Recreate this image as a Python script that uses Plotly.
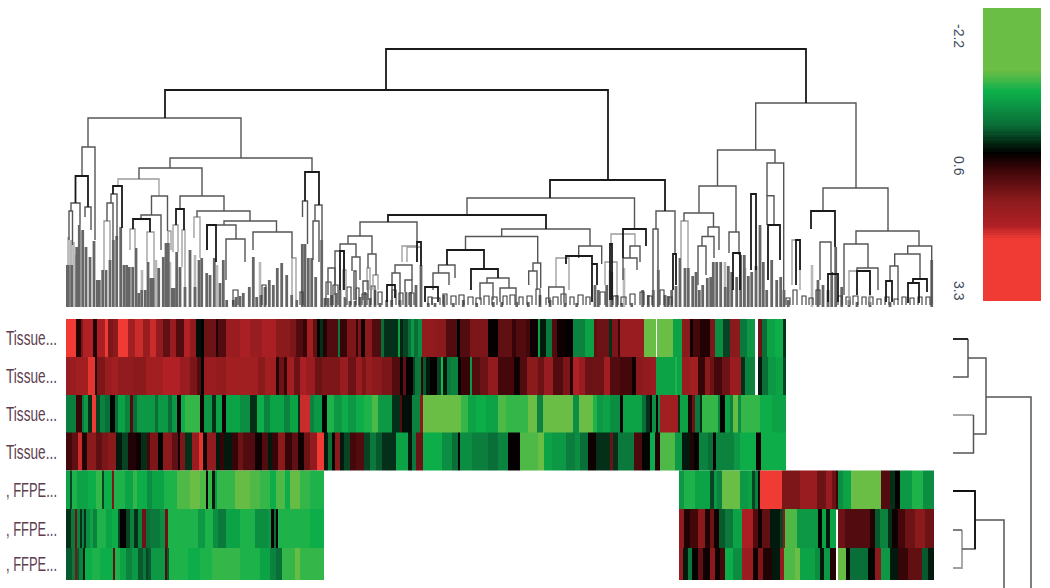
import plotly.graph_objects as go

# Row labels and row boundaries (heat-map y units, top to bottom)
row_labels = ["Tissue...", "Tissue...", "Tissue...", "Tissue...", ", FFPE...", ", FFPE...", ", FFPE..."]
row_edges = [319, 357, 395, 432.5, 470.5, 509, 548, 580]

# Each row: (column start, log ratio); the last entry closes the row. None = no data.
row1 = [(66,2.3),(76,.7),(81,1.3),(83,1.9),(93,.7),(97,1.8),(105,2.2),(108,1.3),(113,1.4),(118,2.2),(128,1.7),(135,2.0),(143,1.6),(150,2.0),(156,1.5),(163,1.1),(170,1.6),(176,1.0),(184,1.9),(190,1.5),(196,.45),(201,.5),(204,1.2),(216,.7),(218,1.0),(226,1.6),(240,1.8),(250,1.6),(262,1.8),(276,1.4),(290,1.3),(296,1.0),(303,.8),(307,1.7),(313,1.1),(317,.5),(320,.3),(323,.7),(327,1.0),(338,-.1),(340,.8),(347,1.3),(356,.8),(358,1.3),(361,.6),(365,1.4),(372,1.0),(381,0),(384,.3),(398,-.5),(400,.35),(403,.2),(408,0),(411,-.4),(414,0),(418,-.3),(422,1.5),(436,1.4),(446,1.0),(457,.5),(460,1.0),(470,1.3),(488,.55),(498,1.1),(512,.8),(516,1.0),(526,.9),(530,.6),(538,-.5),(540,.4),(546,-.1),(552,1.0),(557,.6),(565,.55),(573,-.2),(585,-.5),(594,1.1),(597,1.2),(609,.3),(612,1.3),(618,.8),(620,1.6),(644,-1.2),(650,-1.2),(656,None),(657,-1.1),(663,-1.2),(673,-.5),(682,1.4),(690,.6),(693,.9),(700,.7),(710,1.3),(715,-.3),(723,.2),(730,1.4),(740,-.1),(747,-.4),(755,None),(758,1.2),(762,0),(767,-.5),(775,-.6),(783,.3),(786,None)]
row2 = [(66,1.6),(76,1.7),(88,2.1),(95,.7),(97,1.3),(105,1.6),(112,1.7),(118,1.5),(134,1.4),(146,1.7),(163,1.9),(180,1.6),(190,1.3),(197,1.0),(201,.5),(204,1.6),(216,1.5),(226,1.7),(258,1.4),(265,1.7),(276,.7),(279,1.2),(284,.8),(287,1.7),(294,1.2),(300,1.8),(306,1.6),(315,1.2),(322,1.3),(340,1.6),(348,1.2),(356,1.6),(362,1.3),(366,1.6),(372,1.4),(382,1.3),(392,1.0),(400,.55),(403,1.1),(406,.55),(413,.2),(415,-.1),(421,.8),(423,.1),(426,.4),(430,.55),(437,.2),(441,-.7),(443,.4),(447,-.1),(451,-.2),(458,.55),(461,.8),(470,-.4),(472,1.0),(480,1.2),(488,1.5),(498,.9),(514,.6),(520,1.0),(527,1.4),(538,1.2),(544,1.6),(553,1.0),(563,1.3),(570,.7),(573,1.9),(579,1.6),(585,1.2),(604,1.7),(610,1.0),(620,.9),(632,.6),(636,1.4),(642,1.5),(650,1.6),(656,-.5),(675,-.7),(677,-.5),(682,1.6),(690,1.7),(698,.8),(705,1.4),(710,1.2),(714,.9),(722,1.2),(730,1.6),(741,.3),(745,-.2),(755,None),(758,.4),(762,0),(768,-.4),(776,-.5),(783,.2),(786,None)]
row3 = [(66,-.15),(76,.8),(82,-.1),(84,-.4),(88,.3),(92,2.2),(96,.2),(100,-.2),(105,0),(110,.5),(115,0),(118,-.5),(125,-.2),(130,1.0),(133,0),(137,-.4),(155,0),(158,-.4),(168,0),(172,-.4),(177,.6),(181,-.6),(185,-.8),(200,.6),(204,-.4),(212,.3),(216,-.5),(222,.6),(226,-.5),(240,-.3),(250,.3),(257,-.6),(264,-.2),(270,-.5),(284,-.2),(290,-.5),(298,.3),(300,2.0),(310,-.2),(314,-.4),(322,.5),(327,-.7),(334,-.4),(342,-.6),(348,-.4),(356,-.6),(364,-.7),(372,-.9),(378,-.4),(392,.3),(400,1.0),(402,.45),(412,-.2),(420,1.4),(423,-1.3),(461,-.8),(468,-.5),(476,-.6),(486,-.5),(498,-.9),(506,-.8),(528,-1.1),(537,-.2),(543,-1.2),(573,-.3),(579,-1.2),(593,-.7),(597,-.4),(603,-.5),(610,-.3),(620,.5),(623,-.5),(642,0),(646,.3),(650,.5),(652,-.3),(656,.6),(658,-.3),(660,1.7),(678,.3),(680,-.5),(688,.7),(692,1.2),(695,-.1),(700,.3),(702,-.8),(718,-.2),(720,.5),(725,-.5),(730,-.2),(733,-1.0),(738,-.3),(741,-.8),(760,-.6),(772,-.5),(786,None)]
row4 = [(66,.9),(72,1.1),(78,2.0),(82,.7),(87,1.4),(96,1.1),(102,1.3),(108,1.4),(116,.4),(122,.2),(128,.7),(136,.6),(141,.3),(147,.9),(150,1.3),(158,.5),(163,1.4),(172,1.1),(178,.6),(180,1.3),(185,.3),(192,1.6),(199,2.1),(203,.6),(207,1.5),(216,.4),(220,.8),(224,.4),(232,.8),(238,1.2),(243,1.0),(255,.6),(262,1.0),(268,.4),(272,.8),(278,1.4),(285,.8),(292,1.1),(298,.6),(304,1.2),(310,1.5),(317,2.3),(324,.4),(328,0),(332,.5),(335,1.4),(340,.4),(344,.2),(350,.9),(356,1.0),(364,.2),(370,-.1),(376,.1),(382,.3),(396,-.5),(408,.4),(412,-.1),(416,1.2),(423,-.6),(442,-.3),(452,0),(458,.55),(460,-.3),(472,-.15),(488,0),(498,-.2),(508,.55),(520,-.9),(538,-1.1),(544,-.5),(552,-.4),(566,-.15),(575,-.3),(580,0),(588,.6),(596,.3),(610,1.2),(613,.3),(618,-.1),(634,.95),(642,.5),(650,-.6),(655,.7),(660,-.9),(675,-.4),(682,.4),(690,.7),(694,.5),(699,-.2),(708,0),(713,.5),(716,-.2),(734,-.4),(740,-.6),(756,.6),(761,-.6),(786,None)]
row5 = [(66,-.5),(70,.2),(72,-.7),(77,-.5),(88,-.6),(96,-.8),(102,.2),(104,-.6),(112,1.3),(114,-.7),(125,-.5),(133,-.8),(137,-.6),(147,-.3),(152,-.5),(164,-.7),(177,-.9),(190,-1.2),(200,-.9),(206,.5),(208,-.8),(212,.4),(215,-.4),(217,-.8),(235,-1.0),(250,-.9),(260,-.8),(270,-.6),(276,-.9),(285,-.6),(290,-1.0),(300,-.8),(310,-.7),(324,None),(679,-.4),(684,-.7),(695,-.5),(710,.2),(714,-.4),(717,-.2),(722,-1.2),(740,-.4),(748,-.5),(752,.2),(755,-.2),(758,.6),(760,2.2),(770,2.4),(782,1.3),(800,1.6),(817,1.2),(826,1.6),(832,1.2),(836,.8),(838,-.3),(843,-.5),(851,-1.2),(881,1.0),(890,.3),(895,.55),(900,-.4),(912,-.7),(923,-.3),(934,None)]
row6 = [(66,.3),(71,-.1),(75,1.2),(77,-.2),(80,.3),(82,-.2),(84,.3),(86,-.3),(90,-.5),(93,-.2),(97,-.7),(106,-.5),(112,-.6),(118,.2),(120,.55),(126,.2),(130,-.2),(134,.3),(138,-.2),(142,1.2),(146,0),(150,-.1),(160,-.3),(165,1.2),(168,-.7),(198,-.4),(205,-.7),(213,-.3),(218,-.1),(226,-.5),(240,-.7),(255,-.3),(268,-.4),(271,.6),(274,0),(276,.6),(278,-.7),(310,-.6),(324,None),(679,1.5),(684,.7),(690,.9),(698,1.4),(705,.7),(710,1.2),(714,.6),(719,.1),(725,-.1),(733,-.5),(742,1.8),(753,1.0),(758,.6),(762,1.1),(770,.4),(780,.2),(783,1.4),(785,-.9),(797,-.4),(818,.5),(822,-.5),(826,.4),(830,-.5),(836,None),(838,1.2),(845,1.0),(870,.7),(875,.1),(880,-.2),(888,.3),(892,.6),(898,.9),(905,1.2),(915,1.4),(925,1.2),(934,None)]
row7 = [(66,.1),(72,-.1),(75,1.3),(77,.1),(79,-.2),(83,.4),(85,-.6),(92,-.7),(100,-.6),(113,1.1),(115,-.7),(120,-.5),(126,-.2),(132,-.4),(138,.1),(143,-.1),(146,.2),(148,.1),(151,-.4),(165,1.0),(167,.1),(169,-.7),(188,-.6),(200,-.7),(212,-.8),(240,-.7),(260,-.5),(270,-.2),(276,0),(282,-.8),(295,-1.0),(300,-.8),(324,None),(679,1.6),(683,.4),(688,-.1),(692,.5),(698,1.1),(703,.6),(710,1.4),(715,.6),(720,.9),(725,-.6),(733,-.3),(742,1.6),(753,.6),(758,1.3),(763,.7),(772,.4),(780,1.5),(784,-.9),(795,-1.1),(800,-.5),(815,-.3),(820,.4),(824,-.4),(830,.7),(836,None),(838,-1.0),(846,.5),(850,0),(868,.5),(875,1.4),(881,-.4),(890,.4),(898,.8),(908,1.1),(922,.1),(928,.4),(934,None)]
rows = [row1, row2, row3, row4, row5, row6, row7]

# Colour key
z_min, z_max = -2.2, 3.3
key_labels = ["-2.2", "0.6", "3.3"]
key_label_pos = [22, 154, 291]
key_steps = 120

# Sample dendrogram: (left x, right x, join level, left leg end, right leg end)
links_black = [
 (386,806,49,90,103),(165,608,90,118,180),(550,665,180,198,211),(388,546,215,222,229),
 (305,319,172,201,205),(113,122,186,194,228),(75.5,88,176,203,207),(133,150,219,229,232),(207,216,225,250,262),
 (176,184,209,225,230),(471,498,269,290,278),(447,484,250,265,269),(425,438,287,302,302),(387,395,285,302,298),
 (417,421,242,262,266),(566,592,256,264,264),(623,646,229,258,246),(796,800,240,285,270),(811,835,211,229,247),
 (610,612,244,300,300),(886,892,281,302,302),(908,919,283,303,303),(913,927,279,283,292),(857,870,271,295,295),
 (751,756,194,270,270),(733,740,253,290,290),(768,780,225,280,260),(828,838,274,302,302),
 (340,344,251,290,290),(592,597,264,302,285),(673,676,254,290,285),
]
links_dark = [
 (88,241,118,147,158),(170,312,158,168,172),(139,202,168,179,196),(151.5,167.5,196,215,231),(180,224,196,209,211),
 (197,250,211,217,221),(224,276.5,221,225,232),(207,236,225,250,239),(226,245,239,280,262),(253,292,232,250,258),(141,161,215,219,250),
 (82,95,147,176,240),(71,80,203,211,225),(69,72.5,211,240,245),(85,91,207,217,230),(111,117,194,203,240),(107,113,203,221,240),
 (302.5,307.5,201,217,244),(315,322,205,221,240),(313,319,221,260,262),(360,417,222,236,242),(348,372,236,244,254),
 (340,356,244,251,257),(335,344,251,285,270),(467,634.5,198,215,229),(501.7,590,229,236.5,246),(465.5,537.7,236.5,250,263),(438.5,455,265,273,278),
 (433,449,273,290,285),(487,509,278,283,288),(480,493,283,300,300),(500,516,288,302,302),(533,540.7,263,271,288),(528.7,537,271,285,290),
 (578.7,601.7,246,258,264),(548.7,564,287,303,303),(630,640,246,258,262),(623,637,258,280,270),
 (656,675,211,229,254),(653,658,229,290,270),(755.7,856,103,150,188),(717.5,775,150,186,163),(699,736,186,213,232),
 (684,713.5,213,221,227),(708,719,227,236.5,250),(702,714,236.5,246,258),(698,706,246,285,275),(729,739,232,253,255),
 (767,783.7,163,195.7,290),(767,774,195.7,225,225),(823,888,188,211,231),(856,919,231,244,246),(844,868,244,295,268),(857,878,268,271,290),
 (907.7,931.7,246,254,305),(894.7,920,254,266,279),(890,898,266,281,300),(820,831,242,280,272),
 (328,335,268,295,295),(352,360,257,271,280),(354,356,271,300,300),(368,376,254,268,275),(363,368,281,300,300),(395,412,265,273,280),
 (392,400,273,300,300),(405,412,280,292,292),
]
links_grey = [
 (118,159,179,186,196),(681,688,221,258,268),(402,417,246,262,262),
 (407,421,247,262,266),(343,346,270,290,298),(367,370,268,290,290),(373,378,275,290,290),(556,569,258,287,290),
 (605,617,262,285,295),(611,635,234,244,246),(849,870,271,305,305),(792,800,240,285,290),(168,171,231,243,250),(130,135,229,250,248),(147,154,232,262,278),
 (194,200,217,238,258),(173,178,225,252,252),(182,185,230,267,287),(292,296,258,295,300),(104,110,221,270,260),
]
# Small low clusters near the leaves: (left x, right x, join level)
low_loops = [(326,331,282),(333,338,285),(347,351,287),(356,359,288),(362,367,294),(371,375,286),(378,382,292),(392,396,290),(399,403,293),
 (409,414,293),(428,432,297),(432,440,298),(443,447,294),(451,456,296),(459,464,295),(468,473,297),(476,481,298),(484,489,296),(492,497,297),
 (503,507,296),(510,515,295),(519,523,297),(527,532,296),(536,540,289),(546,550,298),(553,558,297),(561,566,294),(570,574,297),(578,583,295),
 (586,590,297),(600,605,292),(613,618,296),(621,626,297),(630,635,294),(640,644,292),(648,652,296),(660,664,290),(669,672,297),
 (786,790,298),(793,797,290),(802,806,296),(809,813,298),(816,820,290),(838,842,296),(846,850,297),(853,858,296),(862,866,297),(869,873,297),
 (877,881,299),(885,889,297),(894,898,299),(902,906,297),(910,914,298),(918,922,297),(926,930,297),(233,238,290),(262,266,285),(300,303,292)]

# Leaf stems: (x, top of stem)
stems_dark = [(66,265),(68.3,265),(71.7,265),(76.7,247),(79.3,225),(82.7,230),(86,247),(90,257),(94,241),(97.3,280),(99.3,280),(102.7,270),(106,270),(110,260),(113.3,240),(116.7,236),(120.7,227),(124,265),(126.7,265),(129.3,267),(132.7,267),(136,248),(138.7,293),(141.7,290),(145.3,290),(148,262),(150.7,278),(153.3,278),(158.7,268),(163.3,257),(166,243),(168.3,243),(172.3,288),(174.3,288),(176.7,252),(180,267),(185,287),(190,250),(195,287),(199,260),(201.7,258),(206.7,273),(210,275),(214.3,258),(220,283),(223.3,260),(226.7,300),(233.3,300),(236,297),(240,296),(243.3,293),(249.3,287),(253.3,257),(256.7,297),(261,295),(265,287),(269.3,280),(273.3,285),(277.3,268),(281.7,263),(286.7,275),(291.7,295),(296.7,300),(302.3,244),(305,244),(308.3,258),(311.7,258),(315.7,277),(321.7,240),(325,298),(328,298),(331.7,295),(336,293),(340,290),(345,297),(350,301),(355,301),
 (360,297),(365,292),(370,298),(375,290),(380,303),(386.7,300),(391.7,300),(400,300),(406,292),(410.7,292),(416,285),(421,265),(428.3,303),(435,303),(444,295),(453.3,303),(463.3,300),(476.7,303),(493.3,302),(501.7,302),(516.7,302),(528.3,302),(540,295),(550,300),(565,303),(576.7,303),(595,285),(598.3,290),(606.7,285),(611.7,272),(616.7,295),(621.7,303),(631.7,303),(642.7,290),(648.3,295),(653.3,290),(658.3,270),(665,295),(668,296),(671.7,290),
 (676,286),(680,258),(685,268),(688.3,268),(692.7,276),(696,272),(699.3,290),(702.7,285),(707.3,278),(710.7,277),(713.3,262),(716.7,262),(720.7,262),(725.3,287),(728.3,266),(731.7,272),(736.7,277),(740.7,255),(744.3,255),(748.3,276),(751.7,272),(756,266),(760,225),(763.3,262),(766.7,290),(771.7,260),(776.7,280),(780.7,277),(784,290),(788.3,300),
 (818,280),(823,285),(828,290),(831.7,272),(835.7,247),(841.7,287),(849,300),(857,302),(870,302),(890,302),(931.7,260)]
stems_light = [(68.5,237),(71,240),(73.5,242),(75.5,255),(142,270),(156,260),(170,262),(195,255),(217,265),(260,262),(610,270),(624,268),(725,262),(745,268),(812,265)]

# Side (sample) dendrogram: (left x, right x, join level, right leg end)
side_black = [(953,968,339,339),(953,975,491,549)]
side_dark = [(953,968,377,339),(968,986,358,397),(953,973.5,453,415),(973.5,986,434,397),
             (986,1031,397,600),(953,962,530,530),(962,975,549,491),(975,1004,520,600)]
side_grey = [(953,973.5,415,415),(953,962,568,530)]

fig = go.Figure()

for row, top, bottom in zip(rows, row_edges[:-1], row_edges[1:]):
    fig.add_trace(go.Heatmap(
        x=[c[0] for c in row], y=[top, bottom], z=[[c[1] for c in row[:-1]]],
        coloraxis="coloraxis", hoverongaps=False, xaxis="x", yaxis="y"))

# colour key as its own small heat map
key_values = [z_min + (z_max - z_min) * i / (key_steps - 1) for i in range(key_steps)]
fig.add_trace(go.Heatmap(z=[[v] for v in key_values], y=key_values, x=[0],
                         coloraxis="coloraxis", xaxis="x4", yaxis="y4"))

def path(links):
    xs, ys = [], []
    for x1, x2, level, b1, b2 in links:
        xs += [x1, x1, x2, x2, None]
        ys += [b1, level, level, b2, None]
    return xs, ys

def stem_path(stems, base):
    xs, ys = [], []
    for x, top in stems:
        xs += [x, x, None]
        ys += [base, top, None]
    return xs, ys

def side_path(links):
    xs, ys = [], []
    for x1, x2, level, end in links:
        xs += [x1, x2, x2, None]
        ys += [level, level, end, None]
    return xs, ys

def line_trace(xs, ys, color, width, xa="x", ya="y2"):
    return go.Scatter(x=xs, y=ys, mode="lines", line=dict(color=color, width=width),
                      xaxis=xa, yaxis=ya, showlegend=False, hoverinfo="skip")

fig.add_trace(line_trace(*stem_path(stems_light, 307), "#b8b8b8", 2.6))
fig.add_trace(line_trace(*stem_path(stems_dark, 307), "#666666", 2.8))
fig.add_trace(line_trace(*path([(a, b, c, 305, 305) for a, b, c in low_loops]), "#3a3a3a", 1.1))
fig.add_trace(line_trace(*path(links_grey), "#9a9a9a", 1.3))
fig.add_trace(line_trace(*path(links_dark), "#555555", 1.4))
fig.add_trace(line_trace(*path(links_black), "#1a1a1a", 1.8))

fig.add_trace(line_trace(*side_path(side_grey), "#a0a0a0", 1.8, "x3", "y3"))
fig.add_trace(line_trace(*side_path(side_dark), "#555555", 1.5, "x3", "y3"))
fig.add_trace(line_trace(*side_path(side_black), "#111111", 1.8, "x3", "y3"))

W, H = 1050, 588
colorscale = [[0, "#6abd45"], [0.215, "#6abd45"], [0.285, "#0db14b"], [0.40, "#0a6e38"],
              [0.495, "#000000"], [0.55, "#3a0508"], [0.655, "#8a1a1c"], [0.745, "#b02025"],
              [0.79, "#ef3b33"], [1, "#ef3b33"]]

fig.update_layout(
    width=W, height=H, margin=dict(l=0, r=0, t=0, b=0), showlegend=False,
    paper_bgcolor="white", plot_bgcolor="rgba(0,0,0,0)",
    coloraxis=dict(cmin=z_min, cmax=z_max, colorscale=colorscale, showscale=False),
    xaxis=dict(domain=[66/W, 934/W], range=[66, 934], visible=False),
    yaxis=dict(domain=[1-580/H, 1-319/H], range=[580, 319], showgrid=False, zeroline=False, showline=False,
               automargin=False, tickmode="array",
               tickvals=[(a+b)/2 for a, b in zip(row_edges[:-1], row_edges[1:])],
               ticktext=row_labels, ticks="", ticklabelstandoff=8,
               tickfont=dict(family="Liberation Sans", size=20, color="#5d4050")),
    yaxis2=dict(domain=[1-307/H, 1-30/H], range=[307, 30], visible=False, anchor="x"),
    xaxis3=dict(domain=[945/W, 1], range=[945, 1050], visible=False, anchor="y3"),
    yaxis3=dict(domain=[0, 1-310/H], range=[588, 310], visible=False, anchor="x3"),
    xaxis4=dict(domain=[983/W, 1041/W], visible=False, anchor="y4"),
    yaxis4=dict(domain=[1-301/H, 1-8/H], range=[z_max, z_min], visible=False, anchor="x4"),
    annotations=[dict(x=969/W, y=1-p/H, xref="paper", yref="paper", text=t, textangle=90, showarrow=False,
                      font=dict(family="Liberation Sans", size=14, color="#3c4a5a"))
                 for t, p in zip(key_labels, key_label_pos)],
)

# The reference's row labels are condensed: fit the real text into the width it occupies there.
post = """
document.body.style.margin='0';document.body.style.overflow='hidden';
document.querySelectorAll('.ytick text').forEach(function(t){
  t.setAttribute('textLength','51');t.setAttribute('lengthAdjust','spacingAndGlyphs');
});
"""
fig.write_html("out.html", post_script=post, config={"displayModeBar": False})
